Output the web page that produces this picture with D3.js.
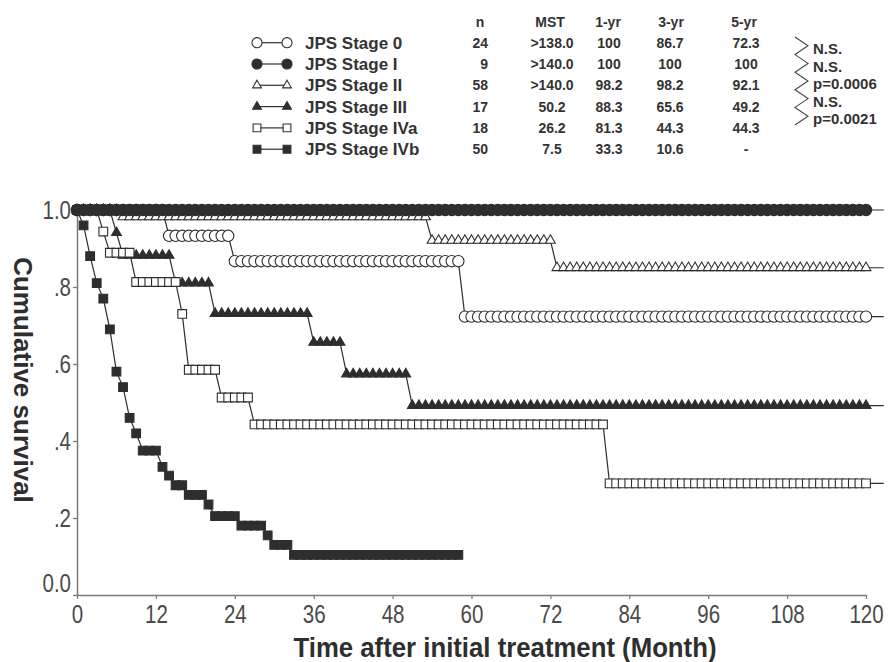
<!DOCTYPE html>
<html>
<head>
<meta charset="utf-8">
<script src="https://cdn.jsdelivr.net/npm/d3@7"></script>
<style>
body { margin: 0; background: #fff; }
text { font-family: 'Liberation Sans', Arial, sans-serif; }
</style>
</head>
<body>
<svg id="km" width="888" height="662"></svg>
<script>
// table next to the legend
const stageNames = ['JPS Stage 0', 'JPS Stage I', 'JPS Stage II', 'JPS Stage III', 'JPS Stage IVa', 'JPS Stage IVb'];
const headers = ['n', 'MST', '1-yr', '3-yr', '5-yr'];
const nCol = ['24', '9', '58', '17', '18', '50'];
const mstCol = ['>138.0', '>140.0', '>140.0', '50.2', '26.2', '7.5'];
const yr1Col = ['100', '100', '98.2', '88.3', '81.3', '33.3'];
const yr3Col = ['86.7', '100', '98.2', '65.6', '44.3', '10.6'];
const yr5Col = ['72.3', '100', '92.1', '49.2', '44.3', '-'];
const pLabels = ['N.S.', 'N.S.', 'p=0.0006', 'N.S.', 'p=0.0021'];

const xTicks = [0, 12, 24, 36, 48, 60, 72, 84, 96, 108, 120];
const yTicks = [0, 0.2, 0.4, 0.6, 0.8, 1.0];
const yTickLabels = ['0.0', '.2', '.4', '.6', '.8', '1.0'];

// survival: [month from which the value holds, value]
const stage0 = [[0, 1.0], [14, 0.933], [24, 0.867], [59, 0.723]];
const stageI = [[0, 1.0]];
const stageII = [[0, 1.0], [7, 0.982], [54, 0.921], [73, 0.850]];
const stageIII = [[0, 1.0], [6, 0.941], [7, 0.882], [15, 0.810], [21, 0.731], [36, 0.656], [41, 0.574], [51, 0.492]];
const stageIVa = [[0, 1.0], [4, 0.944], [5, 0.889], [9, 0.813], [16, 0.730], [17, 0.585], [22, 0.513], [27, 0.443], [81, 0.290]];
const stageIVb = [[0, 1.0], [1, 0.96], [2, 0.88], [3, 0.81], [4, 0.77], [5, 0.69], [6, 0.58], [7, 0.54], [8, 0.46],
    [9, 0.42], [10, 0.375], [13, 0.333], [14, 0.31], [15, 0.285], [17, 0.26], [20, 0.235], [21, 0.205],
    [25, 0.18], [29, 0.155], [30, 0.13], [33, 0.104]];
const lastMonth = [122.7, 122.7, 122.7, 122.7, 122.7, 58];

const seriesData = [stage0, stageI, stageII, stageIII, stageIVa, stageIVb];
const markerType = [d3.symbolCircle, d3.symbolCircle, d3.symbolTriangle, d3.symbolTriangle, d3.symbolSquare, d3.symbolSquare];
const markerFilled = [false, true, false, true, false, true];
const markerSize = [100, 100, 42, 42, 76, 76];
const drawOrder = [0, 2, 3, 4, 5, 1];

const ink = '#2e2e2e';
const axisGrey = '#7a7a7a';

const svg = d3.select('#km');
const x = d3.scaleLinear().domain([0, 120]).range([77, 866]);
const y = d3.scaleLinear().domain([0, 1]).range([595, 210]);

// value of a step series at month m
function survAt(steps, m) {
    let v = steps[0][1];
    for (const s of steps) if (s[0] <= m) v = s[1];
    return v;
}

// axes
let gx = svg.append('g')
    .attr('transform', `translate(0,${y(0)})`)
    .call(d3.axisBottom(x).tickValues(xTicks).tickSize(4).tickSizeOuter(0).tickPadding(6));
let gy = svg.append('g')
    .attr('transform', `translate(${x(0)},0)`)
    .call(d3.axisLeft(y).tickValues(yTicks).tickSize(4).tickSizeOuter(0).tickPadding(1)
        .tickFormat((d, i) => yTickLabels[i]));
[gx, gy].forEach(g => {
    g.select('.domain').attr('stroke', axisGrey).attr('stroke-width', 1.5);
    g.selectAll('.tick line').attr('stroke', axisGrey).attr('stroke-width', 1.3);
    g.selectAll('.tick text')
        .attr('fill', '#4a4a4a')
        .style('font-size', '25px')
        .attr('transform', 'scale(0.82,1)');
});
gy.selectAll('.tick text').attr('x', -6 / 0.82);
gy.selectAll('.tick text').filter(d => d === 0).attr('y', -12);

// axis titles
svg.append('text')
    .attr('transform', `translate(${23},${380}) rotate(90)`)
    .attr('text-anchor', 'middle')
    .attr('dy', '0.35em')
    .attr('fill', ink)
    .style('font-size', '26px')
    .style('font-weight', 'bold')
    .text('Cumulative survival');
svg.append('text')
    .attr('transform', `translate(${505},${657}) scale(0.92,1)`)
    .attr('text-anchor', 'middle')
    .attr('fill', ink)
    .style('font-size', '28px')
    .style('font-weight', 'bold')
    .text('Time after initial treatment (Month)');

// curves
const line = d3.line().x(d => x(d[0])).y(d => y(d[1]));
drawOrder.forEach(k => {
    const steps = seriesData[k];
    const end = lastMonth[k];
    let pts = d3.range(0, Math.floor(end) + 1).map(m => [m, survAt(steps, m)]);
    if (end > Math.floor(end)) pts.push([end, survAt(steps, end)]);
    let g = svg.append('g').attr('class', 'curve');
    g.append('path')
        .attr('d', line(pts))
        .attr('fill', 'none')
        .attr('stroke', ink)
        .attr('stroke-width', 1.2);
    g.selectAll('path.mk')
        .data(pts.filter(d => Number.isInteger(d[0]) && d[0] <= 120))
        .enter().append('path')
        .attr('class', 'mk')
        .attr('transform', d => `translate(${x(d[0])},${y(d[1])})`)
        .attr('d', d3.symbol().type(markerType[k]).size(markerSize[k]))
        .attr('fill', markerFilled[k] ? ink : '#fff')
        .attr('stroke', ink)
        .attr('stroke-width', 1.1);
});

// legend + table
const rowY = i => 42.7 + 21.3 * i;
let leg = svg.append('g');
stageNames.forEach((name, i) => {
    leg.append('line')
        .attr('x1', 257).attr('x2', 287)
        .attr('y1', rowY(i)).attr('y2', rowY(i))
        .attr('stroke', ink).attr('stroke-width', 1.2);
    [257, 287].forEach(cx => {
        leg.append('path')
            .attr('transform', `translate(${cx},${rowY(i)})`)
            .attr('d', d3.symbol().type(markerType[i]).size(markerSize[i] * 0.8))
            .attr('fill', markerFilled[i] ? ink : '#fff')
            .attr('stroke', ink).attr('stroke-width', 1.1);
    });
    leg.append('text')
        .attr('x', 305).attr('y', rowY(i)).attr('dy', '0.35em')
        .attr('fill', '#333')
        .style('font-size', '17px').style('font-weight', 'bold')
        .text(name);
});

const cols = [
    {vals: nCol, x: 488, anchor: 'end', hx: 480},
    {vals: mstCol, x: 552, anchor: 'middle', hx: 550},
    {vals: yr1Col, x: 609, anchor: 'middle', hx: 608},
    {vals: yr3Col, x: 670, anchor: 'middle', hx: 671},
    {vals: yr5Col, x: 746, anchor: 'middle', hx: 744}
];
cols.forEach((c, j) => {
    leg.append('text')
        .attr('x', c.hx).attr('y', 21.7).attr('dy', '0.35em')
        .attr('text-anchor', 'middle')
        .attr('fill', '#333')
        .style('font-size', '14px').style('font-weight', 'bold')
        .text(headers[j]);
    c.vals.forEach((v, i) => {
        leg.append('text')
            .attr('x', c.x).attr('y', rowY(i)).attr('dy', '0.35em')
            .attr('text-anchor', c.anchor)
            .attr('fill', '#333')
            .style('font-size', '14px').style('font-weight', 'bold')
            .text(v);
    });
});

// zigzag comparing neighbouring stages
const zzTop = 37, zzStep = 17.6;
let zz = [];
for (let k = 0; k <= pLabels.length; k++) {
    zz.push([795, zzTop + k * zzStep]);
    if (k < pLabels.length) zz.push([808, zzTop + (k + 0.5) * zzStep]);
}
leg.append('path')
    .attr('d', d3.line()(zz))
    .attr('fill', 'none')
    .attr('stroke', '#444')
    .attr('stroke-width', 1.1);
pLabels.forEach((p, k) => {
    leg.append('text')
        .attr('x', 813).attr('y', zzTop + (k + 0.5) * zzStep + 3).attr('dy', '0.35em')
        .attr('fill', '#333')
        .style('font-size', '15px').style('font-weight', 'bold')
        .text(p);
});
</script>
</body>
</html>
